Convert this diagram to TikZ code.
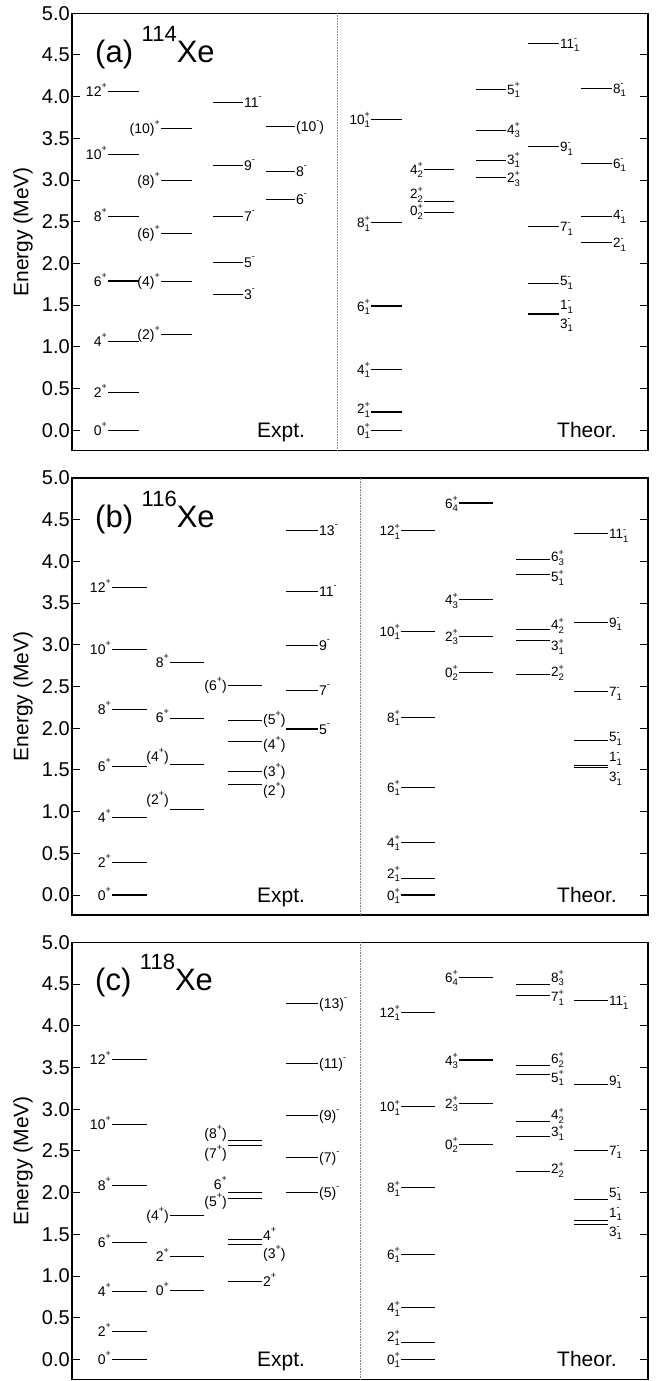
\documentclass[tikz,border=0pt]{standalone}
\usepackage{fontspec}
\setmainfont{Liberation Sans}
\newcounter{lv}
\tikzset{
 lvl/.style={line width=1.1pt},
 frm/.style={line width=1.2pt},
 lab/.style={inner sep=0pt, font=\fontsize{14}{14}\selectfont},
 tlab/.style={inner sep=0pt, font=\fontsize{13.5}{13.5}\selectfont},
 tickline/.style={line width=1pt},
 ticklab/.style={inner sep=0pt, anchor=east, font=\fontsize{20}{20}\selectfont},
 ylab/.style={rotate=90, inner sep=0pt, font=\fontsize{21}{21}\selectfont},
 ttl/.style={inner sep=0pt, anchor=base west, font=\fontsize{31}{31}\selectfont},
 captext/.style={inner sep=0pt, anchor=base west, font=\fontsize{21}{21}\selectfont},
 divider/.style={densely dotted, gray, line width=0.6pt},
}
\newcommand\Up[1]{\raisebox{8pt}{\fontsize{9}{9}\selectfont #1}}
\newcommand\UD[2]{\rlap{\raisebox{6.5pt}{\fontsize{9}{9}\selectfont #1}}\raisebox{-3.5pt}{\fontsize{9.5}{9.5}\selectfont #2}}
\newcommand\Iso[1]{\raisebox{21pt}{\fontsize{22}{22}\selectfont #1}}
% level with label on the left: [style]{x1}{x2}{E}{label}{dy}
\newcommand\LvL[6][lab]{\stepcounter{lv}%
 \draw[lvl] (#2,#4) coordinate (a\thelv) -- (#3,#4) coordinate (b\thelv);
 \node[#1,anchor=base east,xshift=-1pt,yshift=#6pt-5pt] (t\thelv) at (a\thelv) {#5};}
% level with label on the right
\newcommand\LvR[6][lab]{\stepcounter{lv}%
 \draw[lvl] (#2,#4) coordinate (a\thelv) -- (#3,#4) coordinate (b\thelv);
 \node[#1,anchor=base west,xshift=1pt,yshift=#6pt-5pt] (t\thelv) at (b\thelv) {#5};}
\newcommand\Frame[2]{% divider x, panel id
 \draw[frm] (72,-0.24) rectangle (648,5.0);
 \draw[divider] (#1,-0.24) -- (#1,5.0);
 \foreach \e [count=\i] in {0.0,0.5,1.0,1.5,2.0,2.5,3.0,3.5,4.0,4.5,5.0}{
   \draw[tickline] (72,\e) -- (80,\e);
   \draw[tickline] (640,\e) -- (648,\e);
   \node[ticklab] (tk#2\i) at (70,\e) {\e};}
 \node[ylab] (yl#2) at (23,2.38) {Energy (MeV)};
 \node[captext] (ex#2) at (257,-0.09) {Expt.};
 \node[captext] (th#2) at (557,-0.09) {Theor.};
}
\begin{document}
\begin{tikzpicture}
\useasboundingbox (0pt,0pt) rectangle (667pt,-1381pt);
%================ (a) =================
\begin{scope}[yshift=-430.3pt, x=1pt, y=83.4pt]
\Frame{337}{a}
\node[ttl] (ta) at (95,4.41) {(a) \Iso{114}Xe};
% expt
\LvL{108}{139}{4.06}{12\Up{+}}{0}
\LvL{108}{139}{3.31}{10\Up{+}}{0}
\LvL{108}{139}{2.56}{8\Up{+}}{0}
\LvL{108}{139}{1.79}{6\Up{+}}{0}
\LvL{108}{139}{1.07}{4\Up{+}}{0}
\LvL{108}{139}{0.45}{2\Up{+}}{0}
\LvL{108}{139}{0.0}{0\Up{+}}{0}
\LvL{161}{192}{3.62}{(10)\Up{+}}{0}
\LvL{161}{192}{2.99}{(8)\Up{+}}{0}
\LvL{161}{192}{2.36}{(6)\Up{+}}{0}
\LvL{161}{192}{1.78}{(4)\Up{+}}{0}
\LvL{161}{192}{1.15}{(2)\Up{+}}{0}
\LvR{213}{243}{3.93}{11\Up{-}}{0}
\LvR{213}{243}{3.17}{9\Up{-}}{0}
\LvR{213}{243}{2.56}{7\Up{-}}{0}
\LvR{213}{243}{2.01}{5\Up{-}}{0}
\LvR{213}{243}{1.63}{3\Up{-}}{0}
\LvR{266}{295}{3.645}{(10\Up{-})}{0}
\LvR{266}{295}{3.10}{8\Up{-}}{0}
\LvR{266}{295}{2.77}{6\Up{-}}{0}
% theory
\LvL[tlab]{371}{402}{3.73}{10\UD{+}{1}}{0}
\LvL[tlab]{371}{402}{2.49}{8\UD{+}{1}}{0}
\LvL[tlab]{371}{402}{1.49}{6\UD{+}{1}}{0}
\LvL[tlab]{371}{402}{0.73}{4\UD{+}{1}}{0}
\LvL[tlab]{371}{402}{0.22}{2\UD{+}{1}}{3}
\LvL[tlab]{371}{402}{0.0}{0\UD{+}{1}}{0}
\LvL[tlab]{424}{454}{3.13}{4\UD{+}{2}}{0}
\LvL[tlab]{424}{454}{2.74}{2\UD{+}{2}}{8}
\LvL[tlab]{424}{454}{2.61}{0\UD{+}{2}}{2}
\LvR[tlab]{476}{506}{4.09}{5\UD{+}{1}}{0}
\LvR[tlab]{476}{506}{3.60}{4\UD{+}{3}}{1}
\LvR[tlab]{476}{506}{3.24}{3\UD{+}{1}}{1}
\LvR[tlab]{476}{506}{3.03}{2\UD{+}{3}}{0}
\LvR[tlab]{528}{559}{4.64}{11\UD{-}{1}}{0}
\LvR[tlab]{528}{559}{3.40}{9\UD{-}{1}}{0}
\LvR[tlab]{528}{559}{2.44}{7\UD{-}{1}}{0}
\LvR[tlab]{528}{559}{1.76}{5\UD{-}{1}}{3}
\LvR[tlab]{528}{559}{1.40}{1\UD{-}{1}}{9}
\LvR[tlab]{528}{559}{1.39}{3\UD{-}{1}}{-9}
\LvR[tlab]{581}{612}{4.10}{8\UD{-}{1}}{0}
\LvR[tlab]{581}{612}{3.20}{6\UD{-}{1}}{0}
\LvR[tlab]{581}{612}{2.56}{4\UD{-}{1}}{2}
\LvR[tlab]{581}{612}{2.25}{2\UD{-}{1}}{0}
\end{scope}
%================ (b) =================
\begin{scope}[yshift=-895pt, x=1pt, y=83.4pt]
\Frame{360}{b}
\node[ttl] (tb) at (95,4.41) {(b) \Iso{116}Xe};
\LvL{112}{147}{3.69}{12\Up{+}}{0}
\LvL{112}{147}{2.94}{10\Up{+}}{0}
\LvL{112}{147}{2.22}{8\Up{+}}{0}
\LvL{112}{147}{1.54}{6\Up{+}}{0}
\LvL{112}{147}{0.93}{4\Up{+}}{0}
\LvL{112}{147}{0.395}{2\Up{+}}{0}
\LvL{112}{147}{0.0}{0\Up{+}}{0}
\LvL{170}{204}{2.79}{8\Up{+}}{0}
\LvL{170}{204}{2.12}{6\Up{+}}{1}
\LvL{170}{204}{1.56}{(4\Up{+})}{8}
\LvL{170}{204}{1.02}{(2\Up{+})}{10}
\LvL{228}{262}{2.51}{(6\Up{+})}{0}
\LvR{228}{262}{2.09}{(5\Up{+})}{1}
\LvR{228}{262}{1.84}{(4\Up{+})}{-3}
\LvR{228}{262}{1.48}{(3\Up{+})}{0}
\LvR{228}{262}{1.33}{(2\Up{+})}{-6}
\LvR{286}{318}{4.37}{13\Up{-}}{0}
\LvR{286}{318}{3.64}{11\Up{-}}{0}
\LvR{286}{318}{2.99}{9\Up{-}}{0}
\LvR{286}{318}{2.45}{7\Up{-}}{0}
\LvR{286}{318}{1.99}{5\Up{-}}{0}
% theory
\LvL[tlab]{401}{435}{4.37}{12\UD{+}{1}}{0}
\LvL[tlab]{401}{435}{3.16}{10\UD{+}{1}}{0}
\LvL[tlab]{401}{435}{2.13}{8\UD{+}{1}}{0}
\LvL[tlab]{401}{435}{1.29}{6\UD{+}{1}}{0}
\LvL[tlab]{401}{435}{0.63}{4\UD{+}{1}}{0}
\LvL[tlab]{401}{435}{0.20}{2\UD{+}{1}}{5}
\LvL[tlab]{401}{435}{0.0}{0\UD{+}{1}}{0}
\LvL[tlab]{459}{493}{4.70}{6\UD{+}{4}}{0}
\LvL[tlab]{459}{493}{3.54}{4\UD{+}{3}}{0}
\LvL[tlab]{459}{493}{3.10}{2\UD{+}{3}}{0}
\LvL[tlab]{459}{493}{2.67}{0\UD{+}{2}}{0}
\LvR[tlab]{516}{550}{4.02}{6\UD{+}{3}}{3}
\LvR[tlab]{516}{550}{3.84}{5\UD{+}{1}}{-2}
\LvR[tlab]{516}{550}{3.18}{4\UD{+}{2}}{5}
\LvR[tlab]{516}{550}{3.05}{3\UD{+}{1}}{-5}
\LvR[tlab]{516}{550}{2.64}{2\UD{+}{2}}{3}
\LvR[tlab]{574}{608}{4.33}{11\UD{-}{1}}{0}
\LvR[tlab]{574}{608}{3.27}{9\UD{-}{1}}{0}
\LvR[tlab]{574}{608}{2.44}{7\UD{-}{1}}{0}
\LvR[tlab]{574}{608}{1.85}{5\UD{-}{1}}{4}
\LvR[tlab]{574}{608}{1.55}{1\UD{-}{1}}{9}
\LvR[tlab]{574}{608}{1.525}{3\UD{-}{1}}{-9}
\end{scope}
%================ (c) =================
\begin{scope}[yshift=-1359.4pt, x=1pt, y=83.4pt]
\Frame{360}{c}
\node[ttl] (tc) at (95,4.42) {(c) \Iso{118}Xe};
\LvL{112}{147}{3.60}{12\Up{+}}{0}
\LvL{112}{147}{2.82}{10\Up{+}}{0}
\LvL{112}{147}{2.08}{8\Up{+}}{0}
\LvL{112}{147}{1.40}{6\Up{+}}{0}
\LvL{112}{147}{0.815}{4\Up{+}}{0}
\LvL{112}{147}{0.335}{2\Up{+}}{0}
\LvL{112}{147}{0.0}{0\Up{+}}{0}
\LvL{170}{204}{1.73}{(4\Up{+})}{0}
\LvL{170}{204}{1.23}{2\Up{+}}{0}
\LvL{170}{204}{0.83}{0\Up{+}}{0}
\LvL{228}{262}{2.63}{(8\Up{+})}{7}
\LvL{228}{262}{2.57}{(7\Up{+})}{-8}
\LvL{228}{262}{2.00}{6\Up{+}}{8}
\LvL{228}{262}{1.93}{(5\Up{+})}{-3}
\LvR{228}{262}{1.44}{4\Up{+}}{4}
\LvR{228}{262}{1.38}{(3\Up{+})}{-9}
\LvR{228}{262}{0.93}{2\Up{+}}{0}
\LvR{286}{318}{4.27}{(13)\Up{-}}{0}
\LvR{286}{318}{3.55}{(11)\Up{-}}{0}
\LvR{286}{318}{2.92}{(9)\Up{-}}{0}
\LvR{286}{318}{2.42}{(7)\Up{-}}{0}
\LvR{286}{318}{2.00}{(5)\Up{-}}{0}
% theory
\LvL[tlab]{401}{435}{4.16}{12\UD{+}{1}}{0}
\LvL[tlab]{401}{435}{3.03}{10\UD{+}{1}}{0}
\LvL[tlab]{401}{435}{2.06}{8\UD{+}{1}}{0}
\LvL[tlab]{401}{435}{1.26}{6\UD{+}{1}}{0}
\LvL[tlab]{401}{435}{0.62}{4\UD{+}{1}}{0}
\LvL[tlab]{401}{435}{0.20}{2\UD{+}{1}}{6}
\LvL[tlab]{401}{435}{0.0}{0\UD{+}{1}}{0}
\LvL[tlab]{459}{493}{4.58}{6\UD{+}{4}}{0}
\LvL[tlab]{459}{493}{3.59}{4\UD{+}{3}}{0}
\LvL[tlab]{459}{493}{3.07}{2\UD{+}{3}}{0}
\LvL[tlab]{459}{493}{2.58}{0\UD{+}{2}}{0}
\LvR[tlab]{516}{550}{4.50}{8\UD{+}{3}}{7}
\LvR[tlab]{516}{550}{4.36}{7\UD{+}{1}}{-1}
\LvR[tlab]{516}{550}{3.52}{6\UD{+}{2}}{7}
\LvR[tlab]{516}{550}{3.42}{5\UD{+}{1}}{-3}
\LvR[tlab]{516}{550}{2.85}{4\UD{+}{2}}{7}
\LvR[tlab]{516}{550}{2.67}{3\UD{+}{1}}{5}
\LvR[tlab]{516}{550}{2.25}{2\UD{+}{2}}{3}
\LvR[tlab]{574}{608}{4.30}{11\UD{-}{1}}{0}
\LvR[tlab]{574}{608}{3.30}{9\UD{-}{1}}{4}
\LvR[tlab]{574}{608}{2.51}{7\UD{-}{1}}{0}
\LvR[tlab]{574}{608}{1.92}{5\UD{-}{1}}{7}
\LvR[tlab]{574}{608}{1.67}{1\UD{-}{1}}{8}
\LvR[tlab]{574}{608}{1.62}{3\UD{-}{1}}{-7}
\end{scope}
\end{tikzpicture}
\end{document}
